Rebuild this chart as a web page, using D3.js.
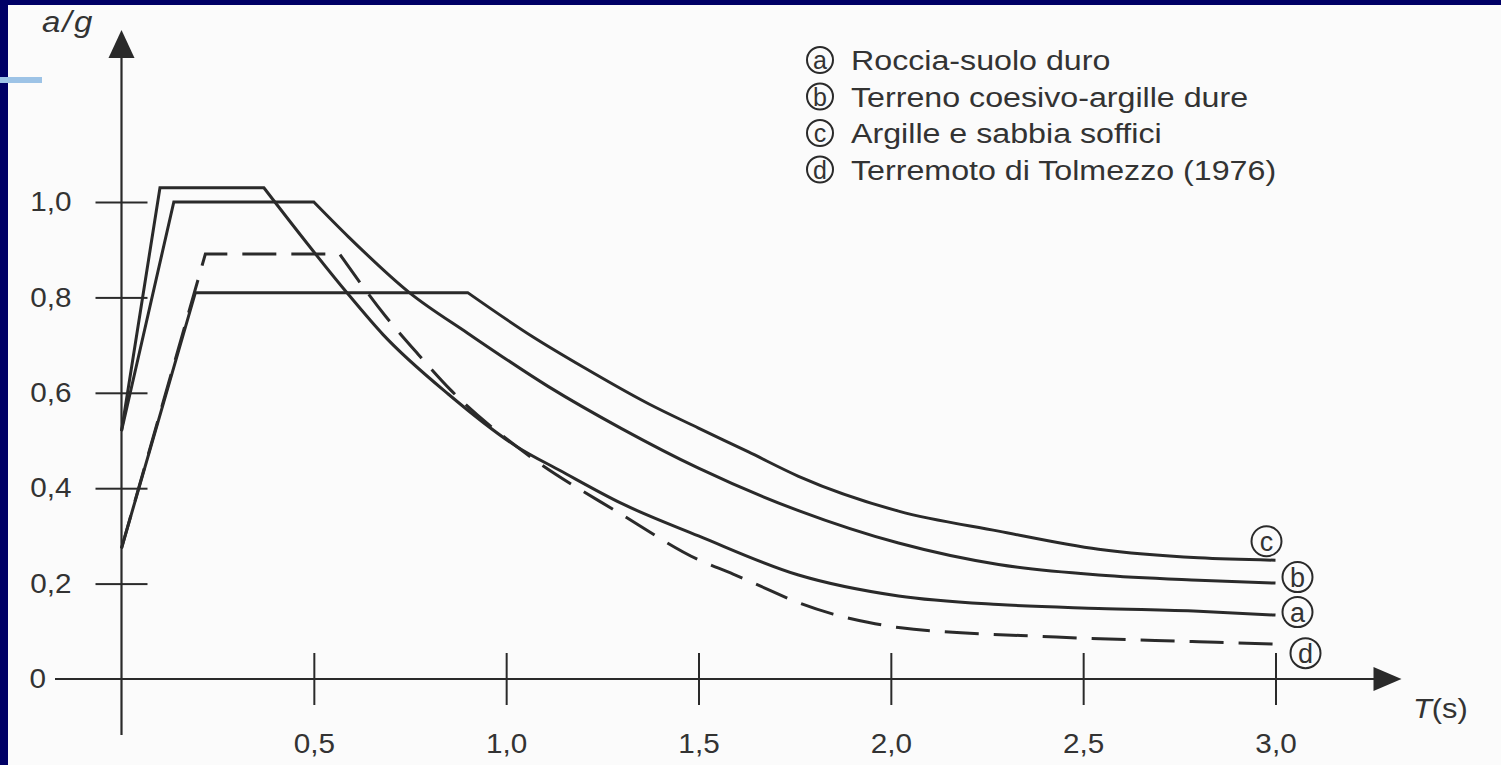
<!DOCTYPE html>
<html>
<head>
<meta charset="utf-8">
<script src="https://cdn.jsdelivr.net/npm/d3@7"></script>
<style>
  html, body { margin: 0; padding: 0; background: #000066; }
  svg { display: block; }
  text { font-family: "Liberation Sans", Arial, sans-serif; fill: #333; }
</style>
</head>
<body>
<svg id="chart" width="1501" height="765"></svg>
<script>
// values: period T (s) and spectral acceleration a/g
const periodA = [0, 0.1, 0.37, 0.59, 0.68, 0.85, 1.03, 1.14, 1.3, 1.5, 1.76, 2.02, 2.28, 2.54, 2.8, 3.0];
const accelA = [0.52, 1.03, 1.03, 0.806, 0.722, 0.597, 0.486, 0.437, 0.368, 0.3, 0.218, 0.174, 0.156, 0.148, 0.142, 0.134];

const periodB = [0, 0.136, 0.5, 0.59, 0.75, 0.9, 1.11, 1.3, 1.5, 1.76, 2.02, 2.28, 2.54, 2.8, 3.0];
const accelB = [0.52, 1.0, 1.0, 0.927, 0.809, 0.725, 0.613, 0.525, 0.442, 0.353, 0.285, 0.24, 0.218, 0.207, 0.201];

const periodC = [0, 0.192, 0.9, 1.07, 1.2, 1.37, 1.5, 1.63, 1.76, 2.02, 2.28, 2.54, 2.8, 3.0];
const accelC = [0.274, 0.81, 0.81, 0.717, 0.654, 0.577, 0.526, 0.476, 0.425, 0.352, 0.31, 0.272, 0.254, 0.249];

const periodD = [0, 0.218, 0.567, 0.686, 0.771, 0.858, 1.049, 1.3, 1.5, 1.59, 1.68, 1.76, 1.85, 1.94, 2.02, 2.43, 2.8, 3.0];
const accelD = [0.274, 0.891, 0.891, 0.761, 0.681, 0.604, 0.474, 0.345, 0.25, 0.22, 0.188, 0.16, 0.136, 0.119, 0.108, 0.088, 0.078, 0.073];

const seriesKeys = ["a", "b", "c", "d"];
const legendLabels = [
  "Roccia-suolo duro",
  "Terreno coesivo-argille dure",
  "Argille e sabbia soffici",
  "Terremoto di Tolmezzo (1976)",
];
const xTicks = [0.5, 1.0, 1.5, 2.0, 2.5, 3.0];
const yTicks = [0.2, 0.4, 0.6, 0.8, 1.0];

const ink = "#2a2a2a";
const stretch = 1.1; // scanned lettering is a bit wider than the font

const svg = d3.select("#chart");

// slide frame + paper
svg.append("rect").attr("width", 1501).attr("height", 765).attr("fill", "#000066");
svg.append("rect").attr("x", 8).attr("y", 5).attr("width", 1493).attr("height", 760).attr("fill", "#fbfbfb");
svg.append("rect").attr("x", 0).attr("y", 77).attr("width", 42).attr("height", 6).attr("fill", "#9dc3e6");

const x = d3.scaleLinear().domain([0, 3]).range([121.5, 1275.5]);
const y = d3.scaleLinear().domain([0, 1]).range([679, 202]);

const fmt = (d) => d3.format(".1f")(d).replace(".", ",");

// x axis: ticks cross the line, labels below
const xBelow = svg.append("g")
  .attr("transform", `translate(0,${y(0)})`)
  .call(d3.axisBottom(x).tickValues(xTicks).tickSize(26).tickPadding(29).tickFormat(fmt));
svg.append("g")
  .attr("transform", `translate(0,${y(0)})`)
  .call(d3.axisTop(x).tickValues(xTicks).tickSize(26).tickFormat(""));

// y axis
const yLeft = svg.append("g")
  .attr("transform", `translate(${x(0)},0)`)
  .call(d3.axisLeft(y).tickValues(yTicks).tickSize(26).tickFormat(fmt));
svg.append("g")
  .attr("transform", `translate(${x(0)},0)`)
  .call(d3.axisRight(y).tickValues(yTicks).tickSize(26).tickFormat(""));

svg.selectAll(".domain").remove();
svg.selectAll(".tick line").attr("stroke", ink).attr("stroke-width", 2);

xBelow.selectAll(".tick text")
  .attr("font-size", 27)
  .attr("font-family", null)
  .attr("transform", `scale(${stretch},1)`);

yLeft.selectAll(".tick text")
  .attr("font-size", 27)
  .attr("font-family", null)
  .attr("x", 0)
  .attr("transform", `translate(-50,0) scale(${stretch},1)`);

// axis lines with arrow heads
svg.append("line")
  .attr("x1", 55).attr("x2", x(3) + 100)
  .attr("y1", y(0)).attr("y2", y(0))
  .attr("stroke", ink).attr("stroke-width", 2.2);
svg.append("path")
  .attr("d", `M${x(3) + 126},${y(0)} L${x(3) + 98},${y(0) - 12} L${x(3) + 98},${y(0) + 12} Z`)
  .attr("fill", ink);

svg.append("line")
  .attr("x1", x(0)).attr("x2", x(0))
  .attr("y1", 735).attr("y2", 56)
  .attr("stroke", ink).attr("stroke-width", 2.2);
svg.append("path")
  .attr("d", `M${x(0)},30 L${x(0) - 13},58 L${x(0) + 13},58 Z`)
  .attr("fill", ink);

svg.append("text")
  .attr("text-anchor", "end")
  .attr("font-size", 27)
  .attr("transform", `translate(46,${y(0) + 9}) scale(${stretch},1)`)
  .text("0");

svg.append("text")
  .attr("font-size", 30)
  .attr("font-style", "italic")
  .attr("letter-spacing", 2)
  .attr("transform", `translate(42,32) scale(${stretch},1)`)
  .text("a/g");

const tLabel = svg.append("text")
  .attr("font-size", 28)
  .attr("transform", `translate(1413,718) scale(${stretch},1)`);
tLabel.append("tspan").attr("font-style", "italic").text("T");
tLabel.append("tspan").text("(s)");

// spectra
const seriesData = {
  a: d3.zip(periodA, accelA),
  b: d3.zip(periodB, accelB),
  c: d3.zip(periodC, accelC),
  d: d3.zip(periodD, accelD),
};

const straight = d3.line().x((d) => x(d[0])).y((d) => y(d[1]));
const smooth = d3.line().x((d) => x(d[0])).y((d) => y(d[1])).curve(d3.curveMonotoneX);

// rise + plateau are straight, the descending branch is smooth
const spectrumPath = (pts) =>
  straight(pts.slice(0, 3)) + smooth(pts.slice(2)).replace(/^M/, "L");

svg.selectAll(".spectrum")
  .data(seriesKeys)
  .enter()
  .append("path")
  .attr("class", "spectrum")
  .attr("d", (k) => spectrumPath(seriesData[k]))
  .attr("fill", "none")
  .attr("stroke", ink)
  .attr("stroke-width", 3)
  .attr("stroke-linejoin", "miter")
  .attr("stroke-dasharray", (k) => (k === "d" ? "34,15" : null));

// circled letters at the curve ends
const endOffset = { a: [22, -3], b: [22, -6], c: [-9, -19], d: [30, 9] };

const ends = svg.selectAll(".endLabel")
  .data(seriesKeys)
  .enter()
  .append("g")
  .attr("class", "endLabel")
  .attr("transform", (k) => {
    const last = seriesData[k][seriesData[k].length - 1];
    return `translate(${x(last[0]) + endOffset[k][0]},${y(last[1]) + endOffset[k][1]})`;
  });

ends.append("circle").attr("r", 15).attr("fill", "none").attr("stroke", ink).attr("stroke-width", 2);
ends.append("text")
  .attr("text-anchor", "middle")
  .attr("dy", "0.36em")
  .attr("font-size", 27)
  .text((k) => k);

// legend
const legend = svg.selectAll(".legendRow")
  .data(seriesKeys)
  .enter()
  .append("g")
  .attr("class", "legendRow")
  .attr("transform", (k, i) => `translate(820,${60 + i * 36.5})`);

legend.append("circle").attr("r", 13).attr("fill", "none").attr("stroke", ink).attr("stroke-width", 2);
legend.append("text")
  .attr("text-anchor", "middle")
  .attr("dy", "0.36em")
  .attr("font-size", 25)
  .text((k) => k);
legend.append("text")
  .attr("font-size", 28)
  .attr("transform", `translate(31,10) scale(1.15,1)`)
  .text((k, i) => legendLabels[i]);
</script>
</body>
</html>
